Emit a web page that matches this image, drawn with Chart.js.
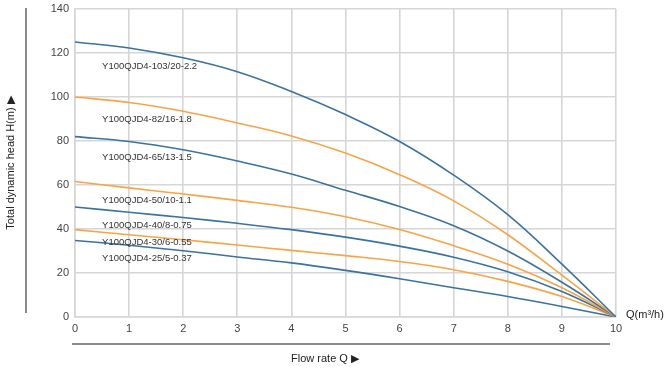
<!DOCTYPE html>
<html>
<head>
<meta charset="utf-8">
<script src="https://cdn.jsdelivr.net/npm/chart.js@4"></script>
<style>
  html, body { margin: 0; padding: 0; background: #fff; }
  #wrap { width: 671px; height: 370px; position: relative; }
</style>
</head>
<body>
<div id="wrap"><canvas id="pompes"></canvas></div>
<script>
// Courbes H-Q des pompes Y100QJD4
const debits = [0, 1, 2, 3, 4, 5, 6, 7, 8, 9, 10];
const modeles = [
    'Y100QJD4-103/20-2.2',
    'Y100QJD4-82/16-1.8',
    'Y100QJD4-65/13-1.5',
    'Y100QJD4-50/10-1.1',
    'Y100QJD4-40/8-0.75',
    'Y100QJD4-30/6-0.55',
    'Y100QJD4-25/5-0.37'
];
const h103 = [125, 122.3, 117.8, 111.5, 102.5, 92, 79.8, 64.5, 46.5, 24, 0];
const h82 = [100, 97.5, 93.5, 88.2, 82.3, 74.5, 64.7, 52.8, 37.4, 19, 0];
const h65 = [82, 79.8, 76, 70.9, 65, 57.6, 50.2, 41.5, 30, 15.8, 0];
const h50 = [61.6, 58.7, 55.9, 53, 49.9, 45.6, 39.8, 32.4, 24, 13.3, 0];
const h40 = [50, 47.6, 45.2, 42.6, 39.7, 36.3, 32.2, 27.2, 20.6, 11.6, 0];
const h30 = [39.7, 37.4, 35.1, 32.7, 30.3, 27.9, 25.2, 21.5, 16.2, 9.3, 0];
const h25 = [34.8, 32.6, 30.1, 27.3, 24.6, 21.2, 17.4, 13.3, 9.3, 4.8, 0];
const hauteurs = [h103, h82, h65, h50, h40, h30, h25];

// ou placer le nom de chaque modele (en unites du graphique)
const etiquetteX = 0.5;
const etiquetteY = [113.8, 90, 72.4, 53.1, 41.6, 34, 26.7];

const BLEU = '#3a72a2';
const ORANGE = '#f7a446';

const datasets = hauteurs.map((h, i) => ({
    label: modeles[i],
    data: debits.map((q, j) => ({ x: q, y: h[j] })),
    borderColor: i % 2 === 0 ? BLEU : ORANGE,
    borderWidth: 1.6,
    pointRadius: 0,
    fill: false,
    tension: 0.4
}));

const decor = {
    id: 'decor',
    afterDraw(chart) {
        const ctx = chart.ctx;
        const sx = chart.scales.x;
        const sy = chart.scales.y;
        ctx.save();

        // noms des modeles
        ctx.fillStyle = '#333';
        ctx.font = '9.5px "Liberation Sans", Arial, sans-serif';
        ctx.textBaseline = 'middle';
        ctx.textAlign = 'left';
        modeles.forEach((m, i) => {
            ctx.fillText(m, sx.getPixelForValue(etiquetteX), sy.getPixelForValue(etiquetteY[i]));
        });

        // traits gris le long des axes
        ctx.strokeStyle = '#8a8a8a';
        ctx.lineWidth = 2;
        ctx.beginPath();
        ctx.moveTo(26, 8);
        ctx.lineTo(26, 313);
        ctx.moveTo(72, 344);
        ctx.lineTo(610, 344);
        ctx.stroke();

        // titres
        ctx.fillStyle = '#222';
        ctx.font = '11px "Liberation Sans", Arial, sans-serif';
        ctx.textAlign = 'center';
        ctx.fillText('Flow rate Q \u25B6', 325, 359);

        ctx.textAlign = 'left';
        ctx.fillText('Q(m\u00B3/h)', 626, 315);

        ctx.translate(11, 163);
        ctx.rotate(-Math.PI / 2);
        ctx.textAlign = 'center';
        ctx.fillText('Total dynamic head H(m) \u25B6', 0, 0);
        ctx.restore();
    }
};

new Chart(document.getElementById('pompes'), {
    type: 'line',
    data: { datasets },
    options: {
        responsive: true,
        maintainAspectRatio: false,
        animation: false,
        layout: { padding: { top: 9, right: 55, bottom: 0, left: 0 } },
        plugins: {
            legend: { display: false },
            tooltip: { enabled: false }
        },
        scales: {
            x: {
                type: 'linear',
                min: 0,
                max: 10,
                afterFit: s => { s.height = 53; s.paddingLeft = 0; s.paddingRight = 0; },
                ticks: {
                    stepSize: 1,
                    padding: 5,
                    color: '#444',
                    font: { size: 11, family: '"Liberation Sans", Arial, sans-serif' }
                },
                grid: { color: '#d6d6d6', lineWidth: 1.6, drawTicks: false },
                border: { color: '#d6d6d6', width: 1.6 }
            },
            y: {
                min: 0,
                max: 140,
                afterFit: s => { s.width = 75; s.paddingTop = 0; s.paddingBottom = 0; },
                ticks: {
                    stepSize: 20,
                    padding: 6,
                    color: '#444',
                    font: { size: 11, family: '"Liberation Sans", Arial, sans-serif' }
                },
                grid: { color: '#d6d6d6', lineWidth: 1.6, drawTicks: false },
                border: { color: '#d6d6d6', width: 1.6 }
            }
        }
    },
    plugins: [decor]
});
</script>
</body>
</html>
